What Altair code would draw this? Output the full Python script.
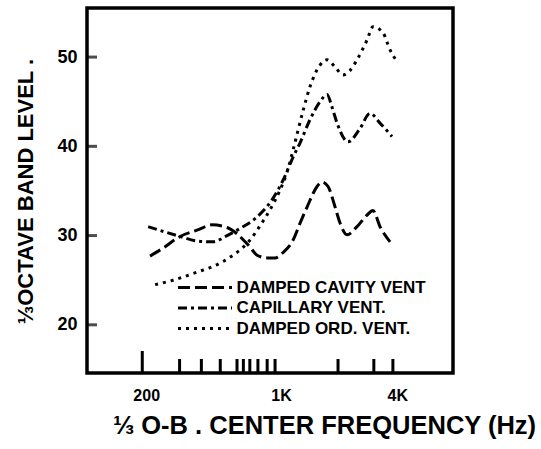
import altair as alt
import pandas as pd

# ---------------- data ----------------
SERIES = ["DAMPED CAVITY VENT", "CAPILLARY VENT.", "DAMPED ORD. VENT."]

cavity_hz = [225, 263, 322, 394, 472, 564, 635, 700, 742, 807, 909, 1000, 1100,
             1240, 1348, 1465, 1651, 1752, 1882, 2047, 2172, 2360, 2660, 2996,
             3218, 3499, 3945]
cavity_db = [27.7, 28.6, 29.9, 30.6, 31.2, 30.9, 30.2, 29.3, 28.7, 27.8, 27.5,
             27.5, 28.1, 29.5, 31.4, 33.2, 35.5, 36.0, 35.5, 33.2, 31.4, 30.1,
             31.0, 32.3, 32.8, 31.0, 29.3]

capillary_hz = [220, 269, 322, 394, 477, 564, 659, 788, 977, 1100, 1240, 1348,
                1518, 1710, 1859, 1973, 2096, 2389, 2756, 3106, 3499, 4038]
capillary_db = [31.0, 30.4, 29.9, 29.4, 29.3, 30.0, 30.8, 31.9, 34.2, 36.2, 38.8,
                40.4, 43.0, 45.0, 45.8, 44.4, 42.6, 40.5, 42.0, 43.7, 42.6, 41.1]

ordinary_hz = [239, 296, 394, 460, 538, 606, 659, 742, 836, 942, 1061, 1154, 1240,
               1397, 1518, 1710, 1859, 2047, 2250, 2446, 2692, 2996, 3218, 3630,
               3945, 4286]
ordinary_db = [24.5, 25.0, 25.9, 26.4, 27.1, 27.8, 28.4, 29.5, 31.1, 32.9, 35.1,
               37.1, 39.6, 44.0, 46.7, 49.1, 49.7, 48.9, 48.0, 48.5, 49.9, 51.9,
               53.4, 52.7, 50.8, 49.5]

X_LABEL_VALUES = [200, 1000, 4000]
Y_LABEL_VALUES = [20, 30, 40, 50]
MAJOR_TICK_HZ = [205]
MINOR_TICK_HZ = [320, 415, 520, 635, 685, 740, 815, 910, 1000, 2120, 3250, 4080]

# ---------------- table ----------------
rows = []
for name, hz, db in zip(SERIES, [cavity_hz, capillary_hz, ordinary_hz],
                        [cavity_db, capillary_db, ordinary_db]):
    for f, v in zip(hz, db):
        rows.append({"series": name, "freq": f, "level": v})
df = pd.DataFrame(rows)

W, H = 366, 365
FONT = "Liberation Sans"

xscale = alt.Scale(type="log", domain=[106, 8360], nice=False)
yscale = alt.Scale(domain=[14.6, 55.5], nice=False, zero=False)

xaxis = alt.Axis(
    values=X_LABEL_VALUES,
    labelExpr="datum.value == 200 ? '200' : (datum.value == 1000 ? '1K' : '4K')",
    labelFontSize=16, labelPadding=14, labelOffset=6, labelFlush=False,
    title="⅓ O-B . CENTER FREQUENCY (Hz)", titleFontSize=25.5,
    titleX=237, titleY=60, titleBaseline="alphabetic", titleAlign="center",
)
yaxis = alt.Axis(
    values=Y_LABEL_VALUES, labelFontSize=18, labelPadding=10,
    title="⅓OCTAVE BAND LEVEL .", titleFontSize=22, titleAngle=270,
    titleX=-54.5, titleY=183, titleBaseline="alphabetic", titleAlign="center",
)

lines = alt.Chart(df).mark_line(
    color="black", strokeWidth=3, interpolate="monotone"
).encode(
    x=alt.X("freq:Q", scale=xscale, axis=xaxis),
    y=alt.Y("level:Q", scale=yscale, axis=yaxis),
    strokeDash=alt.StrokeDash(
        "series:N",
        scale=alt.Scale(domain=SERIES, range=[[12, 5], [9, 4, 3, 4], [3, 5]]),
        legend=alt.Legend(
            orient="none", legendX=89.5, legendY=269, title=None,
            symbolType="M-1,0H5", symbolSize=324, symbolStrokeWidth=3,
            symbolStrokeColor="black", symbolFillColor="transparent",
            labelFont=FONT, labelFontSize=17, labelLimit=400,
            labelFontWeight="bold", labelColor="black", labelOffset=39,
            rowPadding=1.5, padding=0,
        ),
    ),
)

ytick = alt.Chart(pd.DataFrame({"level": Y_LABEL_VALUES})).mark_tick(
    orient="horizontal", color="black", thickness=3, size=10
).encode(y=alt.Y("level:Q", scale=yscale, axis=yaxis), x=alt.value(5))

xmajor = alt.Chart(pd.DataFrame({"freq": MAJOR_TICK_HZ})).mark_rule(
    color="black", strokeWidth=3
).encode(x=alt.X("freq:Q", scale=xscale, axis=xaxis), y=alt.value(H), y2=alt.value(H - 22))

xminor = alt.Chart(pd.DataFrame({"freq": MINOR_TICK_HZ})).mark_rule(
    color="black", strokeWidth=3
).encode(x=alt.X("freq:Q", scale=xscale, axis=xaxis), y=alt.value(H), y2=alt.value(H - 14))

chart = alt.layer(lines, ytick, xmajor, xminor).properties(
    width=W, height=H,
    padding={"left": 87, "top": 8, "right": 88, "bottom": 76},
    autosize=alt.AutoSizeParams(type="none"),
    background="white",
).configure_view(
    stroke="black", strokeWidth=3.5
).configure_axis(
    domain=False, ticks=False, tickSize=0, grid=False,
    labelFont=FONT, labelFontWeight="bold", labelColor="black",
    titleFont=FONT, titleFontWeight="bold", titleColor="black",
)

chart.save("out.html", embed_options={"renderer": "svg", "actions": False})
